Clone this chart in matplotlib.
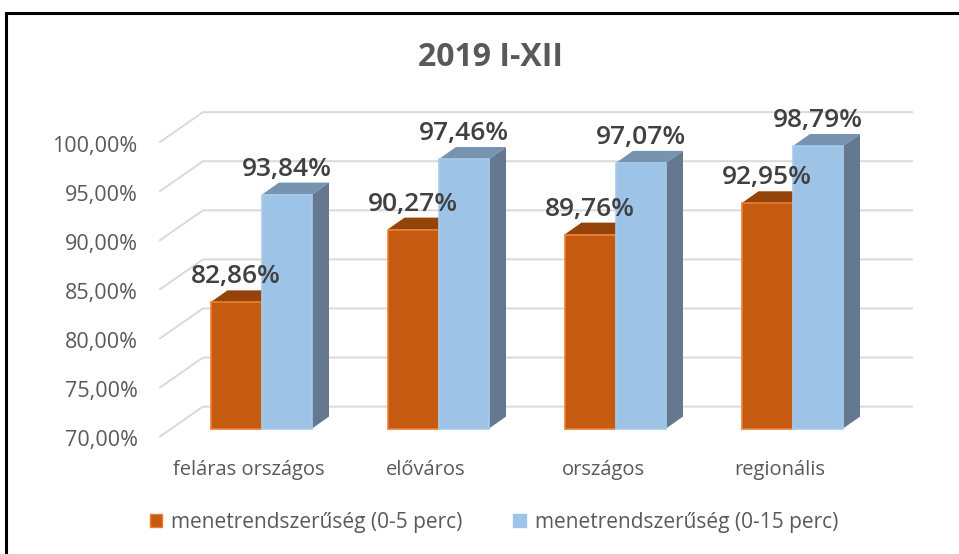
import matplotlib
matplotlib.use("Agg")
import matplotlib.pyplot as plt
from matplotlib.patches import Patch
from matplotlib.lines import Line2D

categories = ["feláras országos", "előváros", "országos", "regionális"]
series_names = ["menetrendszerűség (0-5 perc)", "menetrendszerűség (0-15 perc)"]
on_time_5 = [82.86, 90.27, 89.76, 92.95]
on_time_15 = [93.84, 97.46, 97.07, 98.79]
tick_values = [70, 75, 80, 85, 90, 95, 100]
tick_labels = ["70,00%", "75,00%", "80,00%", "85,00%", "90,00%", "95,00%", "100,00%"]
title = "2019 I-XII"

W, H = 959, 554
plt.rcParams['font.family'] = ['Open Sans', 'DejaVu Sans']
fig = plt.figure(figsize=(W / 100, H / 100), dpi=100, facecolor='white')

# pixel geometry of the plot
PX_L, PX_R, PX_B, PX_T = 160, 912, 438, 100
PX_X0, PX_STEP, PX_VAL = 262, 177, 9.86
ax = fig.add_axes([PX_L / W, 1 - PX_B / H, (PX_R - PX_L) / W, (PX_B - PX_T) / H])
FRONT_BASE = 70 - (438 - 430) / PX_VAL      # value seen at wall's front edge
ax.set_xlim((PX_L - PX_X0) / PX_STEP, (PX_R - PX_X0) / PX_STEP)
ax.set_ylim(FRONT_BASE, FRONT_BASE + (PX_B - PX_T) / PX_VAL)
ax.set_facecolor('none')
for s in ax.spines.values():
    s.set_visible(False)

GRID = '#D9D9D9'
wall_dx = 43 / PX_STEP
wall_dy = 30 / PX_VAL
x_left = (PX_L - PX_X0) / PX_STEP
x_right = (PX_R - PX_X0) / PX_STEP
for v in tick_values:
    front = FRONT_BASE + (v - 70)
    ax.plot([x_left, x_left + wall_dx, x_right], [front, front + wall_dy, front + wall_dy],
            color=GRID, lw=1.4, zorder=1, solid_joinstyle='miter', clip_on=False)

dx = 17 / PX_STEP
dy = 12 / PX_VAL
label_off = 25.5 / PX_VAL


def draw(offset, bw, values, front_c, edge_c, top_c, side_c, z):
    for i, v in enumerate(values):
        x0 = i + offset
        x1 = x0 + bw
        ax.fill([x1, x1 + dx, x1 + dx, x1], [70, 70 + dy, v + dy, v], color=side_c, lw=0, zorder=z)
        ax.fill([x0, x0 + dx, x1 + dx, x1], [v, v + dy, v + dy, v], color=top_c, lw=0, zorder=z)
        ax.bar(x0, v - 70, bw, bottom=70, align='edge', color=front_c, edgecolor=edge_c, lw=1.2, zorder=z + 0.1)
        ax.text(x0 + bw / 2, v + label_off, f"{v:.2f}%".replace('.', ','), ha='center', va='center',
                fontsize=19, fontweight='semibold', color='#404040', zorder=20)


draw(-51.5 / PX_STEP, 51.5 / PX_STEP, on_time_5, '#C55A11', '#ED7D31', '#94430B', '#94430B', 3)
draw(0, 50 / PX_STEP, on_time_15, '#9DC3E6', '#A9CBEA', '#7693B0', '#64798F', 4)

ax.set_yticks([FRONT_BASE + (v - 70) - 1.5 / PX_VAL for v in tick_values])
ax.set_yticklabels(tick_labels, fontsize=15.5, color='#595959')
ax.set_xticks([i - 13 / PX_STEP for i in range(len(categories))])
ax.set_xticklabels(categories, fontsize=14.5, color='#595959')
ax.tick_params(axis='y', length=0, pad=16)
ax.tick_params(axis='x', length=0, pad=15.5)

fig.text(490 / W, 1 - 57 / H, title, ha='center', va='center', fontsize=23, fontweight='bold', color='#595959')

handles = [Patch(facecolor='#C55A11', edgecolor='#ED7D31', lw=1),
           Patch(facecolor='#9DC3E6', edgecolor='#9DC3E6', lw=1)]
fig.legend(handles, series_names, ncol=2, loc='center', bbox_to_anchor=(494 / W, 1 - 522.5 / H),
           frameon=False, fontsize=15, labelcolor='#595959', handlelength=0.6, handleheight=0.6,
           handletextpad=0.45, columnspacing=2.42)

# black frame of the screenshot
fig.add_artist(Line2D([5.5 / W, 5.5 / W, 1], [0, 1 - 12.5 / H, 1 - 12.5 / H], color='black', lw=2.2,
                      solid_joinstyle='miter'))

fig.savefig("out.png", dpi=100, facecolor='white')
